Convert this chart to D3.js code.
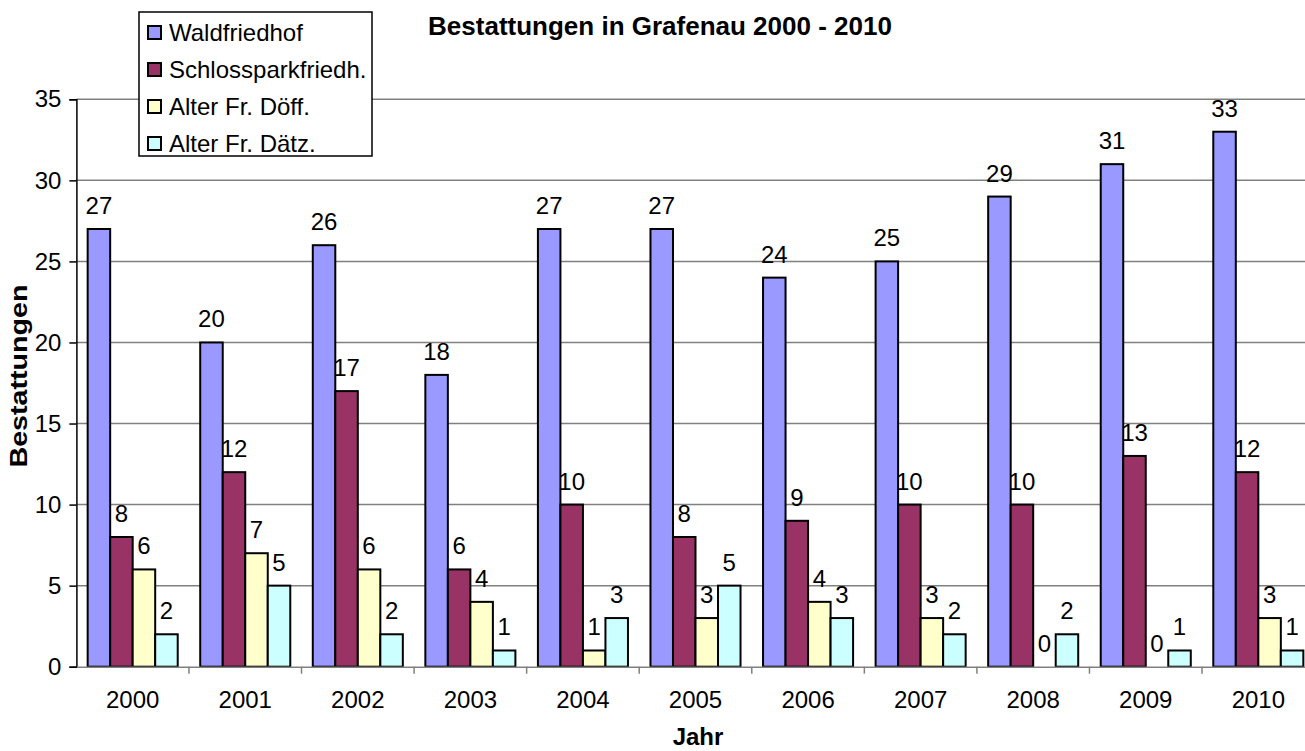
<!DOCTYPE html>
<html>
<head>
<meta charset="utf-8">
<script src="https://cdn.jsdelivr.net/npm/d3@7"></script>
<style>
  body { margin: 0; background: #fff; }
  svg { display: block; font-family: "Liberation Sans", Arial, sans-serif; }
</style>
</head>
<body>
<svg id="svg" width="1305" height="751"></svg>
<script>
'use strict';

const years = ['2000', '2001', '2002', '2003', '2004', '2005', '2006', '2007', '2008', '2009', '2010'];
const seriesNames = ['Waldfriedhof', 'Schlossparkfriedh.', 'Alter Fr. Döff.', 'Alter Fr. Dätz.'];
const seriesColors = ['#9999FF', '#993366', '#FFFFCC', '#CCFFFF'];
const waldfriedhof = [27, 20, 26, 18, 27, 27, 24, 25, 29, 31, 33];
const schlosspark = [8, 12, 17, 6, 10, 8, 9, 10, 10, 13, 12];
const alterDoeff = [6, 7, 6, 4, 1, 3, 4, 3, 0, 0, 3];
const alterDaetz = [2, 5, 2, 1, 3, 5, 3, 2, 2, 1, 1];
const yTicks = [0, 5, 10, 15, 20, 25, 30, 35];

const seriesValues = [waldfriedhof, schlosspark, alterDoeff, alterDaetz];

const margin = { left: 76.4, top: 99.3, right: 1314.6, bottom: 666.7 };
const svg = d3.select('#svg');

const x = d3.scaleBand().domain(years).range([margin.left, margin.right]).paddingInner(0).paddingOuter(0);
const x1 = d3.scaleBand().domain(d3.range(seriesNames.length))
  .range([0, x.bandwidth()]).paddingInner(0).paddingOuter(0.5);
const y = d3.scaleLinear().domain([0, 35]).range([margin.bottom, margin.top]);

// Gridlines
svg.append('g')
  .selectAll('line')
  .data(yTicks.filter(d => d > 0))
  .join('line')
  .attr('x1', margin.left)
  .attr('x2', margin.right)
  .attr('y1', d => y(d))
  .attr('y2', d => y(d))
  .attr('stroke', '#808080')
  .attr('stroke-width', 1.5);

// Bars
const groups = svg.append('g')
  .selectAll('g')
  .data(years)
  .join('g')
  .attr('transform', d => `translate(${x(d)},0)`);

groups.selectAll('rect')
  .data((d, i) => seriesValues.map((vals, s) => ({ s, v: vals[i] })))
  .join('rect')
  .filter(d => d.v > 0)
  .attr('x', d => x1(d.s))
  .attr('y', d => y(d.v))
  .attr('width', x1.bandwidth())
  .attr('height', d => y(0) - y(d.v))
  .attr('fill', d => seriesColors[d.s])
  .attr('stroke', '#000')
  .attr('stroke-width', 2);

groups.selectAll('text')
  .data((d, i) => seriesValues.map((vals, s) => ({ s, v: vals[i] })))
  .join('text')
  .attr('x', d => x1(d.s) + x1.bandwidth() / 2)
  .attr('y', d => y(d.v) - 15)
  .attr('text-anchor', 'middle')
  .attr('font-size', 24)
  .text(d => d.v);

// Y axis
const yAxis = svg.append('g')
  .attr('transform', `translate(${margin.left},0)`)
  .call(d3.axisLeft(y).tickValues(yTicks).tickSize(7).tickPadding(8));
yAxis.select('.domain').attr('stroke', '#000').attr('stroke-width', 1.5);
yAxis.selectAll('.tick line').attr('stroke', '#000').attr('stroke-width', 1.5);
yAxis.selectAll('.tick text').attr('font-size', 24).attr('font-family', 'Liberation Sans, Arial, sans-serif').attr('fill', '#000');

// X axis
const xAxis = svg.append('g')
  .attr('transform', `translate(0,${margin.bottom})`)
  .call(d3.axisBottom(x).tickSize(0).tickPadding(24));
xAxis.select('.domain').attr('stroke', '#808080').attr('stroke-width', 1.5);
xAxis.selectAll('.tick text').attr('font-size', 24).attr('font-family', 'Liberation Sans, Arial, sans-serif').attr('fill', '#000');
svg.append('g')
  .selectAll('line')
  .data(years.slice(1))
  .join('line')
  .attr('x1', d => x(d))
  .attr('x2', d => x(d))
  .attr('y1', margin.bottom)
  .attr('y2', margin.bottom + 7)
  .attr('stroke', '#808080')
  .attr('stroke-width', 1.5);

// Titles
svg.append('text')
  .attr('x', 660)
  .attr('y', 35)
  .attr('text-anchor', 'middle')
  .attr('font-size', 26)
  .attr('font-weight', 'bold')
  .text('Bestattungen in Grafenau 2000 - 2010');

svg.append('text')
  .attr('x', 698)
  .attr('y', 745)
  .attr('text-anchor', 'middle')
  .attr('font-size', 24)
  .attr('font-weight', 'bold')
  .text('Jahr');

svg.append('text')
  .attr('transform', 'translate(27,376) rotate(-90)')
  .attr('text-anchor', 'middle')
  .attr('font-size', 24)
  .attr('font-weight', 'bold')
  .attr('textLength', 183)
  .attr('lengthAdjust', 'spacingAndGlyphs')
  .text('Bestattungen');

// Legend
const legend = svg.append('g').attr('transform', 'translate(139,12)');
legend.append('rect')
  .attr('width', 233)
  .attr('height', 144)
  .attr('fill', '#fff')
  .attr('stroke', '#000')
  .attr('stroke-width', 1.5);
const items = legend.selectAll('g')
  .data(seriesNames)
  .join('g')
  .attr('transform', (d, i) => `translate(9,${20 + i * 37})`);
items.append('rect')
  .attr('x', 0)
  .attr('y', -6)
  .attr('width', 13)
  .attr('height', 13)
  .attr('fill', (d, i) => seriesColors[i])
  .attr('stroke', '#000')
  .attr('stroke-width', 2);
items.append('text')
  .attr('x', 21)
  .attr('y', 9)
  .attr('font-size', 24)
  .text(d => d);
</script>
</body>
</html>
